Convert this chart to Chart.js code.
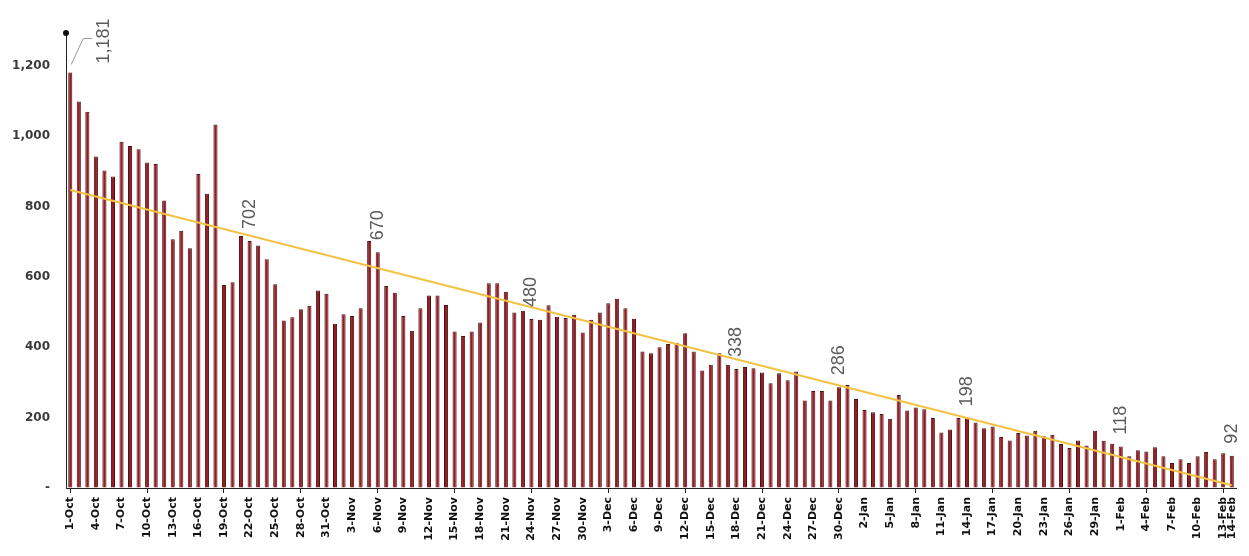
<!DOCTYPE html>
<html>
<head>
<meta charset="utf-8">
<script src="https://cdn.jsdelivr.net/npm/chart.js@4"></script>
<style>
  html, body { margin: 0; padding: 0; background: #fff; }
  #wrap { width: 1249px; height: 556px; position: relative; }
</style>
</head>
<body>
<div id="wrap"><canvas id="c" width="1249" height="556"></canvas></div>
<script>
// ---- data ----
const months = [['Oct', 31], ['Nov', 30], ['Dec', 31], ['Jan', 31], ['Feb', 14]];
const categories = [];
months.forEach(([m, n]) => { for (let d = 1; d <= n; d++) categories.push(d + '-' + m); });

const dailyValues = [
  1181,1098,1069,942,902,885,984,972,963,925,921,817,707,731,681,892,836,1033,577,585,716,702,689,650,579,476,485,508,518,561,
  552,467,494,489,511,702,670,574,555,489,447,511,547,547,520,445,432,445,470,582,582,558,499,504,480,478,519,487,483,492,442,478,499,525,538,
  511,481,388,383,400,409,412,440,388,334,350,383,350,338,344,340,328,298,326,306,331,249,276,276,249,286,293,253,222,215,210,197,264,220,229,
  224,199,158,166,199,198,186,170,175,145,135,156,149,163,147,151,125,114,135,121,163,134,126,118,90,107,104,116,90,71,82,71,90,102,82,99,92
];
const trendEnds = [847, 8];               // trend line value at first and last day
const annotatedIdx = [0, 21, 36, 54, 78, 90, 105, 123, 136];
const yTickValues = [0, 200, 400, 600, 800, 1000, 1200];
const yMax = 1293;

const trendData = categories.map((_, i) => i === 0 ? trendEnds[0] : (i === categories.length - 1 ? trendEnds[1] : null));
const lastIdx = categories.length - 1;
const showTick = i => (i % 3 === 0) || i === lastIdx;

const annotPlugin = {
  id: 'annot',
  afterDatasetsDraw(chart) {
    const ctx = chart.ctx;
    const meta = chart.getDatasetMeta(1);
    ctx.save();
    ctx.fillStyle = '#5a5a5a';
    ctx.font = '18px "Liberation Sans", Arial, sans-serif';
    annotatedIdx.forEach(i => {
      const el = meta.data[i];
      if (!el) return;
      let x = el.x, y = el.y - 12;
      const txt = dailyValues[i].toLocaleString('en-US');
      if (i === 0) {
        ctx.strokeStyle = '#999';
        ctx.lineWidth = 1;
        ctx.beginPath();
        ctx.moveTo(el.x + 1, el.y - 8);
        ctx.lineTo(el.x + 13, el.y - 34);
        ctx.lineTo(el.x + 22, el.y - 34);
        ctx.stroke();
        x = el.x + 34; y = el.y - 9;
      }
      ctx.save();
      ctx.translate(x, y);
      ctx.rotate(-Math.PI / 2);
      ctx.textAlign = 'left';
      ctx.textBaseline = 'middle';
      ctx.fillText(txt, 0, 0);
      ctx.restore();
    });
    const a = chart.chartArea;
    ctx.fillStyle = '#111';
    ctx.beginPath();
    ctx.arc(a.left, a.top, 3, 0, Math.PI * 2);
    ctx.fill();
    ctx.restore();
  }
};

new Chart(document.getElementById('c'), {
  data: {
    labels: categories,
    datasets: [
      {
        type: 'line',
        data: trendData,
        spanGaps: true,
        borderColor: '#f2c244',
        borderWidth: 2,
        pointRadius: 0,
        order: 0
      },
      {
        type: 'bar',
        data: dailyValues,
        backgroundColor: '#981b23',
        borderColor: '#4a1414',
        borderWidth: 1,
        barPercentage: 0.48,
        categoryPercentage: 1,
        order: 1
      }
    ]
  },
  options: {
    responsive: false,
    animation: false,
    layout: { padding: { top: 33, right: 9, left: 0, bottom: 0 } },
    plugins: { legend: { display: false }, tooltip: { enabled: false } },
    scales: {
      x: {
        offset: true,
        grid: {
          display: true,
          offset: false,
          drawOnChartArea: false,
          tickLength: 5,
          tickColor: ctx => showTick(ctx.index) ? '#222' : 'rgba(0,0,0,0)'
        },
        border: { display: true, color: '#222', width: 1 },
        ticks: {
          autoSkip: false,
          maxRotation: 90,
          minRotation: 90,
          padding: 4,
          color: '#111',
          font: { family: '"DejaVu Sans", Verdana, sans-serif', size: 11, weight: 'bold' },
          callback: function (v, i) { return showTick(i) ? this.getLabelForValue(v) : null; }
        },
        afterFit: s => { s.height = 68; }
      },
      y: {
        min: 0,
        max: yMax,
        grid: { display: true, drawOnChartArea: false, tickLength: 0, tickColor: 'rgba(0,0,0,0)' },
        border: { display: true, color: '#222', width: 1 },
        afterBuildTicks: s => { s.ticks = yTickValues.map(v => ({ value: v })); },
        ticks: {
          padding: 16,
          color: '#3a3a3a',
          font: { family: '"DejaVu Sans", Verdana, sans-serif', size: 12, weight: 'bold' },
          callback: v => v === 0 ? '-' : Number(v).toLocaleString('en-US')
        },
        afterFit: s => { s.width = 66; }
      }
    }
  },
  plugins: [annotPlugin]
});
</script>
</body>
</html>
